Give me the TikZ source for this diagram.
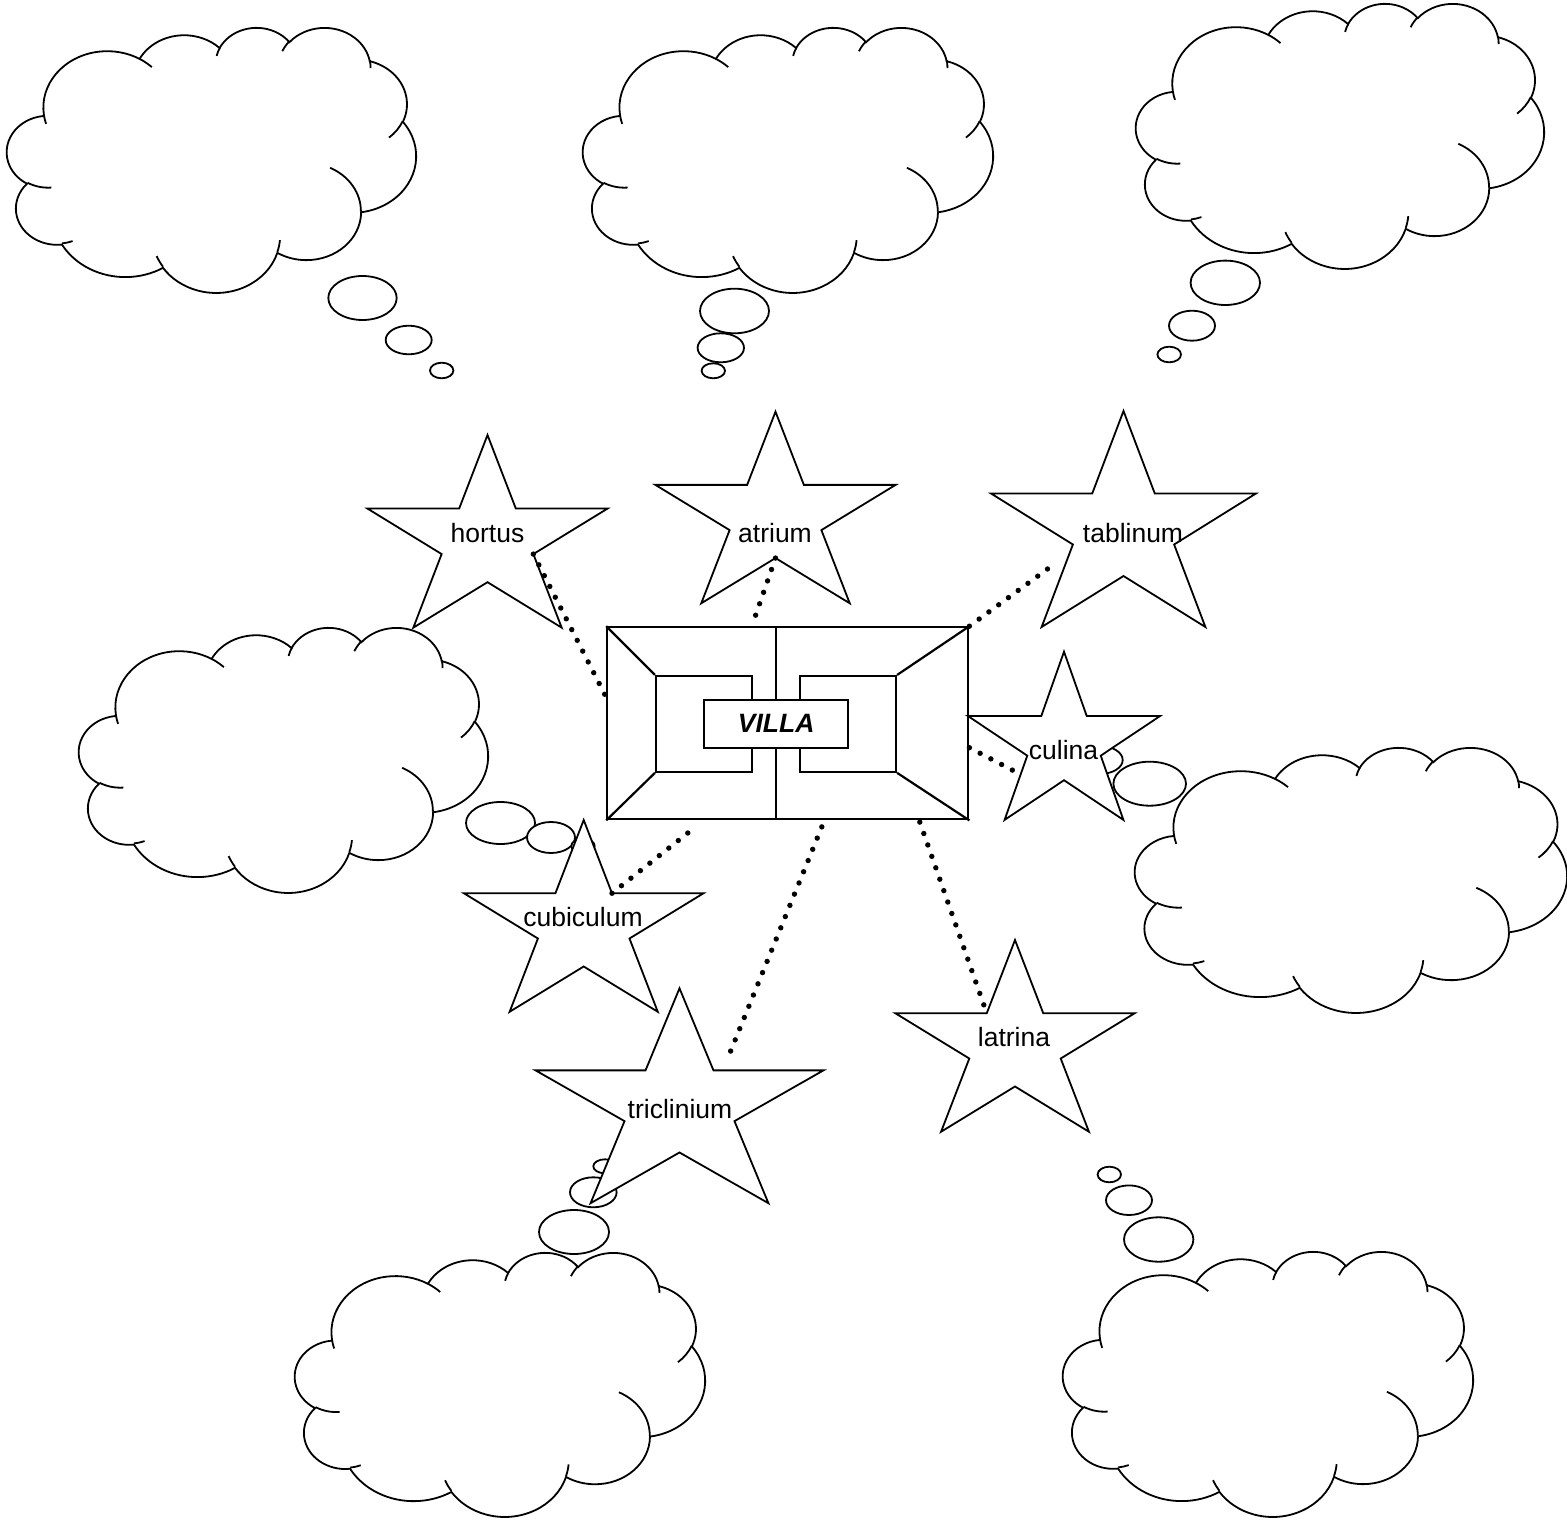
\documentclass[tikz,border=0pt]{standalone}
\usepackage{fontspec}
\setmainfont{Liberation Sans}
\usetikzlibrary{calc}

% lobes of a thought cloud, in a 43.2 x 43.2 box: x radius / y radius / start / sweep
\newcommand\cloudlobes{6.753/9.190/-190.4875/123.7805, 5.333/7.267/-144.1024/89.9452,
  4.365/5.945/-145.8079/99.7230, 4.857/6.595/-130.9861/117.2417,
  5.333/7.273/-78.7089/109.0269, 6.775/9.220/-46.2673/130.2690,
  5.785/7.867/0.6250/114.0333, 6.752/9.215/22.4516/115.1726,
  7.720/10.543/66.2426/75.7110, 4.360/5.918/-274.9421/146.7356,
  4.345/5.945/-246.8285/152.5189}
% small creases inside the cloud: start x / start y / x radius / y radius / start / sweep
\newcommand\cloudcreases{4.693/26.177/4.345/5.945/86.7420/26.4295,
  6.928/34.899/4.360/5.918/73.6105/11.4475, 16.478/39.090/6.752/9.215/137.6242/14.0811,
  28.827/34.751/6.752/9.215/6.4533/15.9984, 34.129/22.954/5.785/7.867/-70.2924/70.9174,
  41.798/15.354/5.333/7.273/30.3180/27.7515, 38.324/5.426/4.857/6.595/-13.7443/14.8589,
  29.078/3.952/4.857/6.595/-149.1815/18.1954, 22.141/4.720/4.365/5.945/-163.4943/17.6864,
  14.000/5.192/6.753/9.190/-66.7070/12.3194, 4.127/15.789/6.753/9.190/157.6544/11.8582}

\tikzset{
  cloudline/.style={draw=black,fill=white,line width=1.8pt},
  starline/.style={draw=black,fill=white,line width=1.8pt},
  planline/.style={draw=black,line width=2.2pt},
  link/.style={line width=5.4pt,line cap=round,dash pattern=on 0pt off 12.1pt},
  roomlabel/.style={inner sep=0pt,font=\fontsize{26.5}{30}\selectfont},
  lobe/.style={x radius=\wr,y radius=\hr,
    start angle={atan2(\wr*sin(\st),\hr*cos(\st))},
    delta angle={mod(atan2(\wr*sin(\st+\sw),\hr*cos(\st+\sw))-atan2(\wr*sin(\st),\hr*cos(\st))+720,360)}}
}

% cloud: left, top, width, height
\newcommand\thinkcloud[4]{%
  \begin{scope}[shift={(#1,#2)},xscale=#3/43.2,yscale=#4/43.2]
    \filldraw[cloudline] (3.9,14.37)
      \foreach \wr/\hr/\st/\sw in \cloudlobes {arc[lobe]} -- cycle;
    \foreach \cx/\cy/\wr/\hr/\st/\sw in \cloudcreases
      \draw[cloudline,fill=none] (\cx,\cy) arc[lobe];
  \end{scope}
}

% star: name, centre x, centre y, x radius, y radius
\newcommand\roomstar[5]{%
  \foreach \k in {0,...,9}{
    \pgfmathsetmacro\rf{isodd(\k) ? 0.382 : 1}
    \pgfmathsetmacro\ptx{#2+\rf*#4*cos(-90+36*\k)}
    \pgfmathsetmacro\pty{#3+\rf*#5*sin(-90+36*\k)}
    \coordinate (#1-\k) at (\ptx,\pty);
  }
  \filldraw[starline] (#1-0) \foreach \k in {1,...,9}{-- (#1-\k)} -- cycle;
}

\begin{document}
\begin{tikzpicture}[x=1pt,y=-1pt]
  \useasboundingbox (0,0) rectangle (1567,1522);

  % thought clouds and their puffs
  \thinkcloud{7}{27}{409}{265}
  \foreach \x/\y/\a/\b in {362.5/298/34.2/22, 408.7/340/23/14.3, 441.7/370.5/11.7/7.8}
    \filldraw[cloudline] (\x,\y) ellipse[x radius=\a,y radius=\b];
  \thinkcloud{583}{27}{410}{265}
  \foreach \x/\y/\a/\b in {734.5/311/34.5/22.3, 720.8/347.8/23.2/14.5, 713.3/370.8/11.7/7.5}
    \filldraw[cloudline] (\x,\y) ellipse[x radius=\a,y radius=\b];
  \thinkcloud{1136}{3}{408}{265}
  \foreach \x/\y/\a/\b in {1225.3/282.8/34.7/22.2, 1192/325.7/23/15, 1169.2/354.5/11.8/7.8}
    \filldraw[cloudline] (\x,\y) ellipse[x radius=\a,y radius=\b];
  \thinkcloud{79}{627}{409}{265}
  \foreach \x/\y/\a/\b in {500.5/823/34.5/21, 551/837.5/24/15.5, 583/846/11.7/7.5}
    \filldraw[cloudline] (\x,\y) ellipse[x radius=\a,y radius=\b];
  \thinkcloud{1135}{747}{432}{265}
  \foreach \x/\y/\a/\b in {1149.7/783.7/36.3/22, 1099.7/760/23/14}
    \filldraw[cloudline] (\x,\y) ellipse[x radius=\a,y radius=\b];
  \thinkcloud{295}{1252}{410}{264}
  \foreach \x/\y/\a/\b in {574/1232/35/22, 593.3/1192.3/23.3/15, 605/1166.3/11.7/7}
    \filldraw[cloudline] (\x,\y) ellipse[x radius=\a,y radius=\b];
  \thinkcloud{1063}{1251}{410}{265}
  \foreach \x/\y/\a/\b in {1158.7/1239.5/34.7/22.2, 1129/1200.2/23/14.8, 1109.3/1174.5/11.7/7.8}
    \filldraw[cloudline] (\x,\y) ellipse[x radius=\a,y radius=\b];

  % the villa plan
  \node[planline,minimum width=361pt,minimum height=192pt,inner sep=0pt] (villa) at (787.8,723.3) {};
  \node[planline,minimum width=96.3pt,minimum height=95.7pt,inner sep=0pt] (westwing) at (704.2,723.9) {};
  \node[planline,minimum width=96pt,minimum height=95.7pt,inner sep=0pt] (eastwing) at (848,723.9) {};
  \draw[planline] (villa.north west) -- (westwing.north west)
    (villa.south west) -- (westwing.south west)
    (villa.north east) -- (eastwing.north east)
    (villa.south east) -- (eastwing.south east);
  \node[planline,fill=white,minimum width=144.3pt,minimum height=47.7pt,inner sep=0pt,
    font=\fontsize{26.5}{30}\selectfont\bfseries\itshape] (title) at (776.2,723.8) {VILLA};
  \draw[planline] (villa.north -| title) -- (title.north)
    (title.south) -- (villa.south -| title);

  % rooms
  \roomstar{hortus}{487.5}{541.5}{126.2}{106.5}
  \roomstar{atrium}{775.5}{517.6}{126.3}{105.9}
  \roomstar{tablinum}{1123.5}{530.4}{139.3}{119.4}
  \roomstar{culina}{1064}{744.7}{101.1}{93}
  \roomstar{cubiculum}{583.7}{926}{126}{106}
  \roomstar{triclinium}{679.5}{1107.1}{151.3}{118.8}
  \roomstar{latrina}{1015}{1046}{125.8}{106}
  \node[roomlabel] (hortus-name) at (487.5,533) {hortus};
  \node[roomlabel] (atrium-name) at (775,533) {atrium};
  \node[roomlabel] (tablinum-name) at (1133,533) {tablinum};
  \node[roomlabel] (culina-name) at (1063.5,750) {culina};
  \node[roomlabel] (cubiculum-name) at (583,917) {cubiculum};
  \node[roomlabel] (triclinium-name) at (680,1109) {triclinium};
  \node[roomlabel] (latrina-name) at (1014,1037) {latrina};

  % dotted links to the villa
  \coordinate (tablinum-end) at (1057,562);
  \coordinate (culina-end) at (1016,772);
  \coordinate (triclinium-end) at (727,1060);
  \draw[link] (hortus-3) -- ([yshift=26pt]villa.west);
  \draw[link] (atrium-5) -- ([xshift=-36pt]villa.north);
  \draw[link] (villa.north east) -- (tablinum-end);
  \draw[link] ([yshift=-24.4pt]villa.east) -- (culina-end);
  \draw[link] (cubiculum-1) -- ([xshift=-93.5pt,yshift=-7.4pt]villa.south);
  \draw[link] ([xshift=34pt,yshift=-6.5pt]villa.south) -- (triclinium-end);
  \draw[link] ([xshift=132pt,yshift=-1.7pt]villa.south) -- (latrina-9);
\end{tikzpicture}
\end{document}
